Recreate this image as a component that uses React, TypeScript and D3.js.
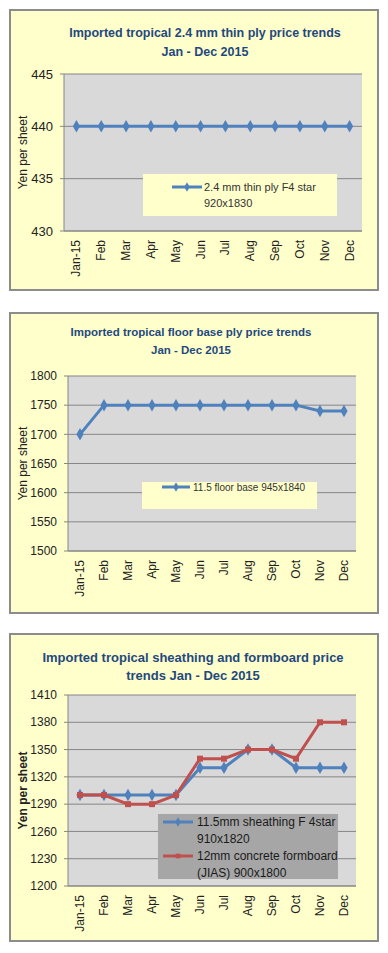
import React from 'react';
import * as d3 from 'd3';

// values
const months = ['Jan-15', 'Feb', 'Mar', 'Apr', 'May', 'Jun', 'Jul', 'Aug', 'Sep', 'Oct', 'Nov', 'Dec'];

const thinPlyPrices = [440, 440, 440, 440, 440, 440, 440, 440, 440, 440, 440, 440];
const thinPlyTicks = [430, 435, 440, 445];

const floorBasePrices = [1700, 1750, 1750, 1750, 1750, 1750, 1750, 1750, 1750, 1750, 1740, 1740];
const floorBaseTicks = [1500, 1550, 1600, 1650, 1700, 1750, 1800];

const sheathingPrices = [1300, 1300, 1300, 1300, 1300, 1330, 1330, 1350, 1350, 1330, 1330, 1330];
const formboardPrices = [1300, 1300, 1290, 1290, 1300, 1340, 1340, 1350, 1350, 1340, 1380, 1380];
const sheathingTicks = [1200, 1230, 1260, 1290, 1320, 1350, 1380, 1410];

const BLUE = '#4F81BD';
const RED = '#C0504D';
const TITLE = '#1F497D';
const ARIAL = '"Liberation Sans", Arial, sans-serif';
const NARROW = '"Liberation Sans Narrow", "Liberation Sans", Arial, sans-serif';

type Series = { values: number[]; color: string; symbol: d3.SymbolType; size: number };
type LegendEntry = { color: string; symbol: d3.SymbolType; size: number; lines: string[]; lineY: number; textY: number[] };

type ChartProps = {
  box: { x: number; y: number; w: number; h: number };
  plot: { x: number; y: number; w: number; h: number };
  titles: string[];
  titleX: number;
  titleY: number[];
  titleSize: number;
  ticks: number[];
  tickFont: string;
  tickSize: number;
  yTitleBold?: boolean;
  series: Series[];
  legend: {
    x: number; y: number; w: number; h: number; fill: string;
    lineX: [number, number]; textX: number; fontSize: number; font: string; color: string;
    entries: LegendEntry[];
  };
};

function LineChart(p: ChartProps) {
  const { box, plot } = p;
  const x = d3.scaleBand<string>().domain(months).range([plot.x, plot.x + plot.w]).padding(0);
  const y = d3.scaleLinear()
    .domain([p.ticks[0], p.ticks[p.ticks.length - 1]])
    .range([plot.y + plot.h, plot.y]);
  const cx = (m: string) => (x(m) as number) + x.bandwidth() / 2;
  const line = d3.line<number>().x((_, i) => cx(months[i])).y(d => y(d));
  const bottom = plot.y + plot.h;

  return (
    <g>
      <rect x={box.x} y={box.y} width={box.w} height={box.h} fill="#FFFFCC" stroke="#8C8C8C" strokeWidth={2} />
      {p.titles.map((t, i) => (
        <text key={t} x={p.titleX} y={p.titleY[i]} textAnchor="middle" fill={TITLE}
          fontFamily={NARROW} fontWeight="bold" fontSize={p.titleSize}>{t}</text>
      ))}
      <rect x={plot.x} y={plot.y} width={plot.w} height={plot.h} fill="#D9D9D9" />
      {p.ticks.map(t => (
        <g key={t}>
          <line x1={plot.x - 4} x2={plot.x + plot.w} y1={y(t)} y2={y(t)} stroke="#868686" strokeWidth={1} />
          <text x={plot.x - 11} y={y(t)} dy="0.35em" textAnchor="end" fill="#222"
            fontFamily={p.tickFont} fontSize={p.tickSize}>{t}</text>
        </g>
      ))}
      <line x1={plot.x} x2={plot.x} y1={plot.y} y2={bottom} stroke="#868686" />
      <line x1={plot.x} x2={plot.x + plot.w} y1={bottom} y2={bottom} stroke="#868686" />
      {months.map(m => (
        <text key={m} transform={`translate(${cx(m) + 4},${bottom + 9}) rotate(-90)`} textAnchor="end"
          fill="#222" fontFamily={ARIAL} fontSize={12}>{m}</text>
      ))}
      <text transform={`translate(${box.x + 17},${plot.y + plot.h / 2}) rotate(-90)`} textAnchor="middle"
        fill="#222" fontFamily={ARIAL} fontSize={12} fontWeight={p.yTitleBold ? 'bold' : 'normal'}>Yen per sheet</text>

      {p.series.map((s, si) => (
        <g key={si}>
          <path d={line(s.values) as string} fill="none" stroke={s.color} strokeWidth={3} />
          {s.values.map((v, i) => (
            <path key={i} transform={`translate(${cx(months[i])},${y(v)})`}
              d={d3.symbol().type(s.symbol).size(s.size)() as string} fill={s.color} />
          ))}
        </g>
      ))}

      <rect x={p.legend.x} y={p.legend.y} width={p.legend.w} height={p.legend.h} fill={p.legend.fill} />
      {p.legend.entries.map((e, ei) => (
        <g key={ei}>
          <line x1={p.legend.lineX[0]} x2={p.legend.lineX[1]} y1={e.lineY} y2={e.lineY} stroke={e.color} strokeWidth={3} />
          <path transform={`translate(${(p.legend.lineX[0] + p.legend.lineX[1]) / 2},${e.lineY})`}
            d={d3.symbol().type(e.symbol).size(e.size * 0.6)() as string} fill={e.color} />
          {e.lines.map((l, li) => (
            <text key={li} x={p.legend.textX} y={e.textY[li]} fill={p.legend.color}
              fontFamily={p.legend.font} fontSize={p.legend.fontSize}>{l}</text>
          ))}
        </g>
      ))}
    </g>
  );
}

export default function App() {
  return (
    <svg width={388} height={953} style={{ position: 'absolute', left: 0, top: 0, background: '#fff' }}>
      <LineChart
        box={{ x: 10, y: 10, w: 368, h: 280 }}
        plot={{ x: 64, y: 74, w: 298, h: 157 }}
        titles={['Imported tropical 2.4 mm thin ply price trends', 'Jan - Dec 2015']}
        titleX={205} titleY={[37, 56]} titleSize={12.5}
        ticks={thinPlyTicks} tickFont={ARIAL} tickSize={13}
        series={[{ values: thinPlyPrices, color: BLUE, symbol: d3.symbolDiamond, size: 45 }]}
        legend={{
          x: 143, y: 174, w: 194, h: 42, fill: '#FFFFCC', lineX: [172, 202], textX: 204,
          fontSize: 11, font: ARIAL, color: '#333',
          entries: [{ color: BLUE, symbol: d3.symbolDiamond, size: 45, lines: ['2.4 mm thin ply F4 star', '920x1830'], lineY: 187, textY: [191, 207] }],
        }}
      />
      <LineChart
        box={{ x: 10, y: 313, w: 368, h: 300 }}
        plot={{ x: 68, y: 376, w: 288, h: 175 }}
        titles={['Imported tropical floor base ply price trends', 'Jan - Dec 2015']}
        titleX={191} titleY={[336, 354]} titleSize={11.5}
        ticks={floorBaseTicks} tickFont={NARROW} tickSize={12}
        series={[{ values: floorBasePrices, color: BLUE, symbol: d3.symbolDiamond, size: 45 }]}
        legend={{
          x: 142, y: 482, w: 175, h: 27, fill: '#FFFFCC', lineX: [162, 190], textX: 193,
          fontSize: 10, font: ARIAL, color: '#333',
          entries: [{ color: BLUE, symbol: d3.symbolDiamond, size: 45, lines: ['11.5 floor base 945x1840'], lineY: 487, textY: [491] }],
        }}
      />
      <LineChart
        box={{ x: 10, y: 634, w: 368, h: 307 }}
        plot={{ x: 68, y: 695, w: 288, h: 191 }}
        titles={['Imported tropical sheathing and formboard price', 'trends Jan - Dec 2015']}
        titleX={193} titleY={[662, 680]} titleSize={13}
        ticks={sheathingTicks} tickFont={NARROW} tickSize={12}
        yTitleBold
        series={[
          { values: sheathingPrices, color: BLUE, symbol: d3.symbolDiamond, size: 45 },
          { values: formboardPrices, color: RED, symbol: d3.symbolSquare, size: 36 },
        ]}
        legend={{
          x: 158, y: 814, w: 180, h: 65, fill: '#A6A6A6', lineX: [163, 193], textX: 197,
          fontSize: 12, font: NARROW, color: '#1a1a1a',
          entries: [
            { color: BLUE, symbol: d3.symbolDiamond, size: 45, lines: ['11.5mm sheathing F 4star', '910x1820'], lineY: 822, textY: [826, 843] },
            { color: RED, symbol: d3.symbolSquare, size: 36, lines: ['12mm concrete formboard', '(JIAS) 900x1800'], lineY: 856, textY: [860, 877] },
          ],
        }}
      />
    </svg>
  );
}
